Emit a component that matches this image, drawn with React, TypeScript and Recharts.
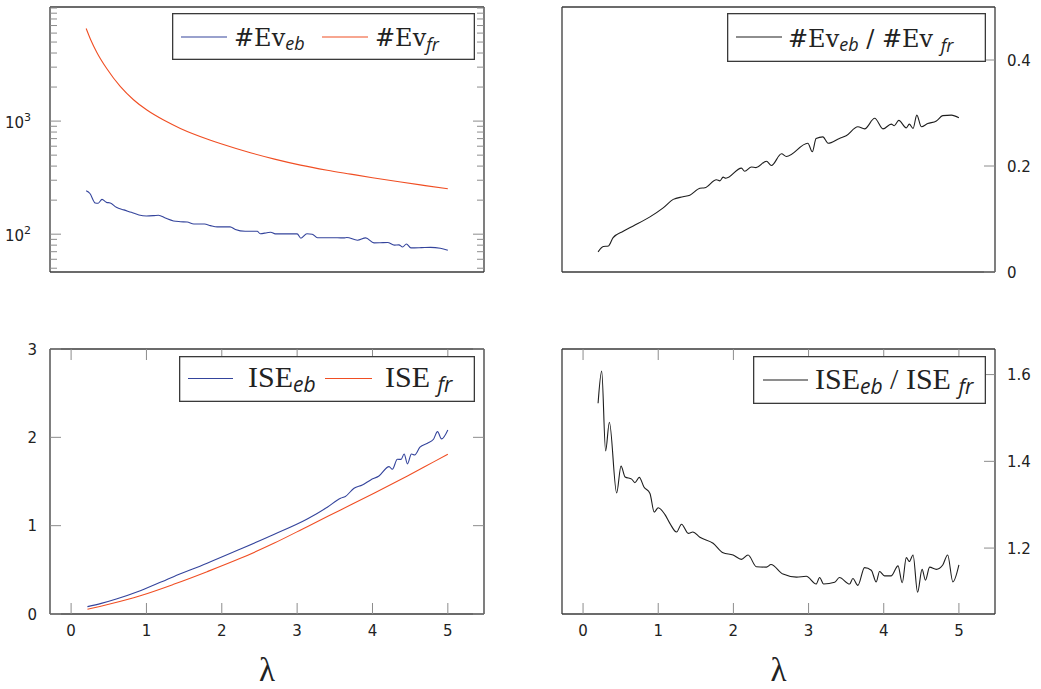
import React from 'react';
import { LineChart, Line, XAxis, YAxis, Legend } from 'recharts';

// ---------- data ----------
const lamEvEb = [0.2, 0.25, 0.32, 0.36, 0.41, 0.47, 0.52, 0.6, 0.7, 0.8, 0.9, 1.0, 1.1, 1.16, 1.25, 1.36, 1.45, 1.54, 1.63, 1.77, 1.85, 1.94, 2.11, 2.18, 2.31, 2.47, 2.51, 2.6, 2.65, 2.71, 2.85, 3.0, 3.05, 3.13, 3.2, 3.27, 3.45, 3.62, 3.66, 3.8, 3.91, 4.02, 4.1, 4.2, 4.29, 4.35, 4.4, 4.45, 4.51, 4.65, 4.77, 4.9, 5.0];
const evEb = [242, 229, 189, 188, 203, 191, 189, 173, 164, 156, 148, 145, 146, 147, 139, 131, 129, 128, 123, 123, 119, 116, 116, 110, 106, 106, 101, 103, 104, 100.6, 100.6, 100.6, 92, 101, 100, 93, 93, 92.8, 93.5, 88.5, 92.8, 83.8, 84, 84.5, 80, 80.5, 77, 82, 75.6, 76, 76.5, 75, 72];

const lamEvFr = [0.2, 0.26, 0.342, 0.475, 0.652, 0.828, 1.006, 1.228, 1.45, 1.85, 2.0, 2.38, 2.7, 3.045, 3.4, 3.71, 4.0, 4.375, 4.7, 5.0];
const evFr = [6600, 5250, 4050, 2900, 2025, 1545, 1252, 1021, 862, 678, 627, 525, 461, 408, 368, 340, 316, 289, 269, 252];

const lamEvRatio = [0.2, 0.27, 0.336, 0.4, 0.535, 0.668, 0.89, 1.066, 1.2, 1.33, 1.42, 1.554, 1.62, 1.775, 1.82, 1.863, 1.9, 2.107, 2.15, 2.24, 2.3, 2.44, 2.506, 2.64, 2.705, 2.99, 3.05, 3.1, 3.19, 3.26, 3.41, 3.5, 3.656, 3.745, 3.88, 3.99, 4.1, 4.14, 4.2, 4.3, 4.34, 4.39, 4.44, 4.5, 4.585, 4.7, 4.785, 4.9, 5.0];
const evRatio = [0.038, 0.048, 0.049, 0.065, 0.077, 0.087, 0.104, 0.121, 0.137, 0.142, 0.145, 0.158, 0.159, 0.174, 0.172, 0.179, 0.177, 0.196, 0.19, 0.198, 0.197, 0.209, 0.201, 0.223, 0.218, 0.243, 0.227, 0.252, 0.255, 0.243, 0.252, 0.257, 0.274, 0.27, 0.29, 0.27, 0.279, 0.276, 0.286, 0.272, 0.279, 0.271, 0.296, 0.274, 0.28, 0.285, 0.295, 0.296, 0.291];

const lamIseEb = [0.217, 0.4, 0.6, 0.918, 1.36, 1.805, 2.247, 2.69, 3.134, 3.4, 3.577, 3.64, 3.755, 3.865, 3.976, 4.086, 4.22, 4.264, 4.33, 4.38, 4.42, 4.464, 4.517, 4.56, 4.63, 4.73, 4.81, 4.863, 4.916, 5.0];
const iseEb = [0.083, 0.12, 0.17, 0.264, 0.423, 0.575, 0.735, 0.9, 1.075, 1.208, 1.31, 1.33, 1.424, 1.46, 1.518, 1.563, 1.668, 1.638, 1.752, 1.75, 1.812, 1.699, 1.812, 1.8, 1.888, 1.933, 1.978, 2.065, 1.982, 2.084];

const lamIseFr = [0.217, 0.5, 0.918, 1.36, 1.805, 2.247, 2.69, 3.134, 3.577, 4.02, 4.464, 4.818, 5.0];
const iseFr = [0.053, 0.11, 0.207, 0.336, 0.479, 0.63, 0.8, 0.989, 1.178, 1.367, 1.563, 1.725, 1.808];

const lamIseRatio = [0.2, 0.248, 0.3, 0.35, 0.447, 0.505, 0.56, 0.647, 0.69, 0.748, 0.81, 0.89, 0.947, 1.0, 1.09, 1.155, 1.244, 1.31, 1.4, 1.46, 1.554, 1.73, 1.863, 1.996, 2.107, 2.195, 2.306, 2.44, 2.5, 2.66, 2.84, 2.97, 3.1, 3.147, 3.2, 3.347, 3.41, 3.546, 3.59, 3.656, 3.745, 3.834, 3.9, 3.944, 4.01, 4.1, 4.19, 4.246, 4.3, 4.34, 4.39, 4.45, 4.51, 4.555, 4.61, 4.7, 4.785, 4.85, 4.92, 5.0];
const iseRatio = [1.534, 1.608, 1.424, 1.49, 1.327, 1.389, 1.364, 1.359, 1.351, 1.363, 1.341, 1.326, 1.283, 1.293, 1.277, 1.257, 1.237, 1.255, 1.234, 1.237, 1.225, 1.211, 1.189, 1.184, 1.174, 1.184, 1.157, 1.156, 1.162, 1.14, 1.133, 1.135, 1.117, 1.132, 1.117, 1.121, 1.132, 1.117, 1.13, 1.114, 1.155, 1.149, 1.122, 1.146, 1.136, 1.136, 1.159, 1.12, 1.178, 1.169, 1.184, 1.098, 1.151, 1.126, 1.156, 1.151, 1.161, 1.184, 1.122, 1.161];

const xTicks = [0, 1, 2, 3, 4, 5];
const logTicks = [50, 60, 70, 80, 90, 100, 200, 300, 400, 500, 600, 700, 800, 900, 1000, 2000, 3000, 4000, 5000, 6000, 7000, 8000, 9000, 10000];
const logMajor = [100, 1000];
const evRatioTicks = [0, 0.2, 0.4];
const iseTicks = [0, 1, 2, 3];
const iseRatioTicks = [1.2, 1.4, 1.6];

// ---------- styling ----------
const BLUE = '#34449c';
const RED = '#f04e23';
const BLACK = '#1e1e1e';
const FRAME = '#3a3a3a';
const TICK = '#8c8c8c';
const TXT = '#222';
const NUM_FONT = "'DejaVu Sans', sans-serif";
const SERIF = "'Liberation Serif', serif";
const DSERIF = "'DejaVu Serif', serif";
const SUB = "'Open Sans', sans-serif";

const X_DOMAIN: [number, number] = [-0.28, 5.48];
const LOG_DOMAIN: [number, number] = [46.3, 10210];
const axisLine = { stroke: FRAME, strokeWidth: 1.3 };

const pairs = (xs: number[], ys: number[]) => xs.map((x, i) => ({ lam: x, v: ys[i] }));

const evEbData = pairs(lamEvEb, evEb);
const evFrData = pairs(lamEvFr, evFr);
const evRatioData = pairs(lamEvRatio, evRatio);
const iseEbData = pairs(lamIseEb, iseEb);
const iseFrData = pairs(lamIseFr, iseFr);
const iseRatioData = pairs(lamIseRatio, iseRatio);

// ---------- ticks ----------
const numStyle = { fontFamily: NUM_FONT, fontSize: 15, fill: TXT };

const yTick = (side: 'left' | 'right', showLabel: boolean, fmt: (v: number) => string = (v) => String(v)) =>
  (props: any) => {
    const { x, y, payload } = props;
    const d = side === 'left' ? 1 : -1;
    return (
      <g>
        <line x1={x} y1={y} x2={x + d * 11} y2={y} stroke={TICK} strokeWidth={1} />
        {showLabel && (
          <text x={side === 'left' ? x - 13 : x + 12} y={y + 5.5} textAnchor={side === 'left' ? 'end' : 'start'} {...numStyle}>
            {fmt(payload.value)}
          </text>
        )}
      </g>
    );
  };

const logTick = (side: 'left' | 'right', showLabel: boolean) => (props: any) => {
  const { x, y, payload } = props;
  const v = payload.value as number;
  const major = logMajor.includes(v);
  const d = side === 'left' ? 1 : -1;
  const len = major ? 11 : 7;
  const exp = Math.round(Math.log10(v));
  return (
    <g>
      <line x1={x} y1={y} x2={x + d * len} y2={y} stroke={TICK} strokeWidth={1} />
      {showLabel && major && (
        <text x={x - 19} y={y + 7} textAnchor="end" {...numStyle}>
          10<tspan dy={-7} fontSize={11}>{exp}</tspan>
        </text>
      )}
    </g>
  );
};

const xTickBottom = (props: any) => {
  const { x, y, payload } = props;
  return (
    <g>
      <line x1={x} y1={y} x2={x} y2={y - 11} stroke={TICK} strokeWidth={1} />
      <text x={x} y={y + 22} textAnchor="middle" {...numStyle}>{payload.value}</text>
    </g>
  );
};

const xTickTop = (props: any) => {
  const { x, y } = props;
  return <line x1={x} y1={y} x2={x} y2={y + 11} stroke={TICK} strokeWidth={1} />;
};

const lambdaLabel = { value: 'λ', position: 'insideBottom' as const, offset: 3, style: { fontFamily: SERIF, fontSize: 33, fill: TXT } };

// ---------- legends ----------
const LegendBox = ({ w, h, children }: { w: number; h: number; children: React.ReactNode }) => (
  <svg width={w} height={h} style={{ display: 'block' }}>
    <rect x={0.65} y={0.65} width={w - 1.3} height={h - 1.3} fill="#fff" stroke={FRAME} strokeWidth={1.3} />
    {children}
  </svg>
);

const subEv = { fontFamily: SUB, fontStyle: 'italic' as const, fontSize: 18 };
const subIse = { fontFamily: SUB, fontStyle: 'italic' as const, fontSize: 21 };
const evText = { fontFamily: DSERIF, fontSize: 24, fill: TXT, style: { whiteSpace: 'pre' as const } };
const iseText = { fontFamily: SERIF, fontSize: 30, fill: TXT, style: { whiteSpace: 'pre' as const } };

const legendProps = { layout: 'vertical' as const, align: 'center' as const, verticalAlign: 'middle' as const };

const App = () => (
  <div style={{ position: 'absolute', left: 0, top: 0, width: 1041, height: 689, background: '#fff' }}>
    {/* Top-left */}
    <div style={{ position: 'absolute', left: 0, top: 0 }}>
      <LineChart width={520} height={300} margin={{ top: 6, right: 35, bottom: 27, left: 0 }}>
        <XAxis xAxisId="b" dataKey="lam" type="number" domain={X_DOMAIN} allowDataOverflow tick={false} tickLine={false} height={1} axisLine={axisLine} />
        <XAxis xAxisId="t" dataKey="lam" orientation="top" type="number" domain={X_DOMAIN} allowDataOverflow tick={false} tickLine={false} height={1} axisLine={axisLine} />
        <YAxis yAxisId="l" type="number" scale="log" domain={LOG_DOMAIN} allowDataOverflow ticks={logTicks} interval={0} tickSize={0} tickMargin={0} tickLine={false} tick={logTick('left', true)} width={50} axisLine={axisLine} />
        <YAxis yAxisId="r" orientation="right" type="number" scale="log" domain={LOG_DOMAIN} allowDataOverflow ticks={logTicks} interval={0} tickSize={0} tickMargin={0} tickLine={false} tick={logTick('right', false)} width={1} axisLine={axisLine} />
        <Line xAxisId="b" yAxisId="l" data={evFrData} dataKey="v" type="monotone" stroke={RED} strokeWidth={1.1} dot={false} isAnimationActive={false} />
        <Line xAxisId="b" yAxisId="l" data={evEbData} dataKey="v" type="monotone" stroke={BLUE} strokeWidth={1.1} dot={false} isAnimationActive={false} />
        <Legend {...legendProps} wrapperStyle={{ left: 172, top: 13, width: 303, height: 47 }} content={() => (
          <LegendBox w={303} h={47}>
            <line x1={9} x2={55} y1={24} y2={24} stroke={BLUE} strokeWidth={1.1} />
            <text x={62} y={33} {...evText}>#Ev<tspan dy={4} {...subEv}>eb</tspan></text>
            <line x1={150} x2={196} y1={24} y2={24} stroke={RED} strokeWidth={1.1} />
            <text x={203} y={33} {...evText}>#Ev<tspan dy={5} {...subEv}>fr</tspan></text>
          </LegendBox>
        )} />
      </LineChart>
    </div>

    {/* Top-right */}
    <div style={{ position: 'absolute', left: 520, top: 0 }}>
      <LineChart width={521} height={300} margin={{ top: 6, right: 6, bottom: 27, left: 41 }}>
        <XAxis xAxisId="b" dataKey="lam" type="number" domain={X_DOMAIN} allowDataOverflow tick={false} tickLine={false} height={1} axisLine={axisLine} />
        <XAxis xAxisId="t" dataKey="lam" orientation="top" type="number" domain={X_DOMAIN} allowDataOverflow tick={false} tickLine={false} height={1} axisLine={axisLine} />
        <YAxis yAxisId="l" type="number" domain={[0, 0.5]} allowDataOverflow tick={false} tickLine={false} width={1} axisLine={axisLine} />
        <YAxis yAxisId="r" orientation="right" type="number" domain={[0, 0.5]} allowDataOverflow ticks={evRatioTicks} interval={0} tickSize={0} tickMargin={0} tickLine={false} tick={yTick('right', true)} width={40} axisLine={axisLine} />
        <Line xAxisId="b" yAxisId="r" data={evRatioData} dataKey="v" type="monotone" stroke={BLACK} strokeWidth={1.1} dot={false} isAnimationActive={false} />
        <Legend {...legendProps} wrapperStyle={{ left: 207, top: 13, width: 259, height: 49 }} content={() => (
          <LegendBox w={259} h={49}>
            <line x1={9} x2={55} y1={24} y2={24} stroke={BLACK} strokeWidth={1.1} />
            <text x={61} y={34} {...evText}>#Ev<tspan dy={4} {...subEv}>eb</tspan><tspan dy={-4}> / #Ev </tspan><tspan dy={5} {...subEv}>fr</tspan></text>
          </LegendBox>
        )} />
      </LineChart>
    </div>

    {/* Bottom-left */}
    <div style={{ position: 'absolute', left: 0, top: 310 }}>
      <LineChart width={520} height={379} margin={{ top: 38, right: 35, bottom: 5, left: 0 }}>
        <XAxis xAxisId="b" dataKey="lam" type="number" domain={X_DOMAIN} allowDataOverflow ticks={xTicks} interval={0} tickSize={0} tickMargin={0} tickLine={false} tick={xTickBottom} height={70} axisLine={axisLine} label={lambdaLabel} />
        <XAxis xAxisId="t" dataKey="lam" orientation="top" type="number" domain={X_DOMAIN} allowDataOverflow ticks={xTicks} interval={0} tickSize={0} tickMargin={0} tickLine={false} tick={xTickTop} height={1} axisLine={axisLine} />
        <YAxis yAxisId="l" type="number" domain={[0, 3]} allowDataOverflow ticks={iseTicks} interval={0} tickSize={0} tickMargin={0} tickLine={false} tick={yTick('left', true)} width={50} axisLine={axisLine} />
        <YAxis yAxisId="r" orientation="right" type="number" domain={[0, 3]} allowDataOverflow ticks={iseTicks} interval={0} tickSize={0} tickMargin={0} tickLine={false} tick={yTick('right', false)} width={1} axisLine={axisLine} />
        <Line xAxisId="b" yAxisId="l" data={iseFrData} dataKey="v" type="monotone" stroke={RED} strokeWidth={1.1} dot={false} isAnimationActive={false} />
        <Line xAxisId="b" yAxisId="l" data={iseEbData} dataKey="v" type="monotone" stroke={BLUE} strokeWidth={1.1} dot={false} isAnimationActive={false} />
        <Legend {...legendProps} wrapperStyle={{ left: 179, top: 46, width: 296, height: 46 }} content={() => (
          <LegendBox w={296} h={46}>
            <line x1={9} x2={54} y1={22.5} y2={22.5} stroke={BLUE} strokeWidth={1.1} />
            <text x={69} y={31} {...iseText}>ISE<tspan dy={5} {...subIse}>eb</tspan></text>
            <line x1={146} x2={193} y1={22.5} y2={22.5} stroke={RED} strokeWidth={1.1} />
            <text x={206} y={31} {...iseText}>ISE <tspan dy={5} {...subIse}>fr</tspan></text>
          </LegendBox>
        )} />
      </LineChart>
    </div>

    {/* Bottom-right */}
    <div style={{ position: 'absolute', left: 520, top: 310 }}>
      <LineChart width={521} height={379} margin={{ top: 38, right: 6, bottom: 5, left: 41 }}>
        <XAxis xAxisId="b" dataKey="lam" type="number" domain={X_DOMAIN} allowDataOverflow ticks={xTicks} interval={0} tickSize={0} tickMargin={0} tickLine={false} tick={xTickBottom} height={70} axisLine={axisLine} label={lambdaLabel} />
        <XAxis xAxisId="t" dataKey="lam" orientation="top" type="number" domain={X_DOMAIN} allowDataOverflow ticks={xTicks} interval={0} tickSize={0} tickMargin={0} tickLine={false} tick={xTickTop} height={1} axisLine={axisLine} />
        <YAxis yAxisId="l" type="number" domain={[1.048, 1.659]} allowDataOverflow tick={false} tickLine={false} width={1} axisLine={axisLine} />
        <YAxis yAxisId="r" orientation="right" type="number" domain={[1.048, 1.659]} allowDataOverflow ticks={iseRatioTicks} interval={0} tickSize={0} tickMargin={0} tickLine={false} tick={yTick('right', true, (v) => v.toFixed(1))} width={40} axisLine={axisLine} />
        <Line xAxisId="b" yAxisId="r" data={iseRatioData} dataKey="v" type="monotone" stroke={BLACK} strokeWidth={1.1} dot={false} isAnimationActive={false} />
        <Legend {...legendProps} wrapperStyle={{ left: 233, top: 46, width: 233, height: 48 }} content={() => (
          <LegendBox w={233} h={48}>
            <line x1={10} x2={55} y1={24} y2={24} stroke={BLACK} strokeWidth={1.1} />
            <text x={62} y={33} {...iseText}>ISE<tspan dy={5} {...subIse}>eb</tspan><tspan dy={-5}> / ISE </tspan><tspan dy={5} {...subIse}>fr</tspan></text>
          </LegendBox>
        )} />
      </LineChart>
    </div>
  </div>
);

export default App;
